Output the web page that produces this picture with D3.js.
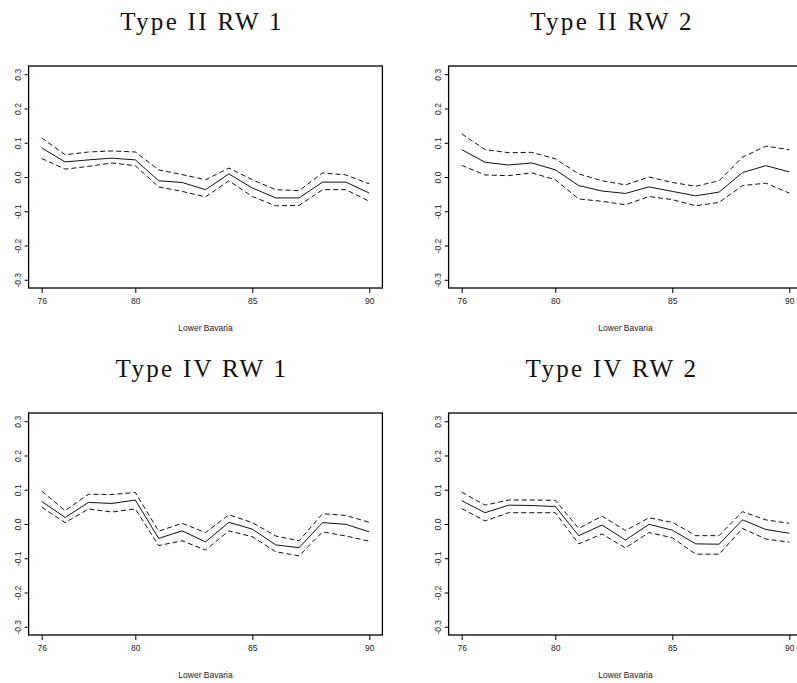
<!DOCTYPE html>
<html>
<head>
  <script src="https://cdnjs.cloudflare.com/ajax/libs/d3/7.8.5/d3.min.js"></script>
  <style>
    body { margin: 0; background: white; }
    .title { font-family: "Liberation Serif", serif; font-size: 25px; letter-spacing: 2.3px; fill: #111; }
    .tick text, .xlab { font-family: "Liberation Sans", Arial, sans-serif; font-size: 8.5px; fill: #222; }
    .tick line { stroke: #000; }
  </style>
</head>
<body>
  <div id="chart"></div>
  <script>
    // years on the x axis (19xx)
    const years = [76, 77, 78, 79, 80, 81, 82, 83, 84, 85, 86, 87, 88, 89, 90];
    const xTicks = [76, 80, 85, 90];
    const yTicks = [-0.3, -0.2, -0.1, 0.0, 0.1, 0.2, 0.3];

    const titles = ["Type II RW 1", "Type II RW 2", "Type IV RW 1", "Type IV RW 2"];
    const xLabel = "Lower Bavaria";

    // estimate and upper / lower bands for each panel
    const est2rw1 = [0.085, 0.044, 0.050, 0.055, 0.050, -0.011, -0.016, -0.037, 0.009, -0.032, -0.061, -0.061, -0.015, -0.015, -0.047];
    const up2rw1  = [0.114, 0.065, 0.073, 0.076, 0.073, 0.021, 0.007, -0.008, 0.026, -0.008, -0.037, -0.040, 0.012, 0.006, -0.020];
    const lo2rw1  = [0.054, 0.023, 0.031, 0.041, 0.033, -0.029, -0.042, -0.058, -0.011, -0.057, -0.084, -0.083, -0.037, -0.037, -0.071];

    const est2rw2 = [0.080, 0.043, 0.035, 0.041, 0.021, -0.025, -0.041, -0.048, -0.029, -0.042, -0.055, -0.044, 0.013, 0.033, 0.015];
    const up2rw2  = [0.126, 0.080, 0.071, 0.072, 0.053, 0.009, -0.011, -0.023, 0.000, -0.016, -0.027, -0.011, 0.058, 0.090, 0.080];
    const lo2rw2  = [0.034, 0.006, 0.004, 0.012, -0.008, -0.064, -0.071, -0.081, -0.057, -0.066, -0.084, -0.074, -0.025, -0.018, -0.047];

    const est4rw1 = [0.066, 0.019, 0.063, 0.060, 0.070, -0.042, -0.020, -0.052, 0.005, -0.015, -0.061, -0.069, 0.004, -0.001, -0.023];
    const up4rw1  = [0.096, 0.039, 0.087, 0.086, 0.092, -0.021, 0.002, -0.025, 0.027, 0.004, -0.035, -0.049, 0.030, 0.025, 0.005];
    const lo4rw1  = [0.049, 0.004, 0.044, 0.035, 0.044, -0.063, -0.049, -0.076, -0.020, -0.037, -0.081, -0.093, -0.023, -0.035, -0.050];

    const est4rw2 = [0.068, 0.033, 0.055, 0.054, 0.051, -0.034, -0.003, -0.047, -0.001, -0.018, -0.058, -0.059, 0.012, -0.016, -0.027];
    const up4rw2  = [0.093, 0.055, 0.070, 0.070, 0.069, -0.013, 0.023, -0.019, 0.018, 0.005, -0.034, -0.034, 0.036, 0.012, 0.002];
    const lo4rw2  = [0.045, 0.009, 0.033, 0.033, 0.033, -0.058, -0.029, -0.070, -0.025, -0.040, -0.088, -0.088, -0.013, -0.044, -0.053];

    const panels = [
      { title: titles[0], est: est2rw1, up: up2rw1, lo: lo2rw1 },
      { title: titles[1], est: est2rw2, up: up2rw2, lo: lo2rw2 },
      { title: titles[2], est: est4rw1, up: up4rw1, lo: lo4rw1 },
      { title: titles[3], est: est4rw2, up: up4rw2, lo: lo4rw2 }
    ];

    const width = 797, height = 683;
    const svg = d3.select("#chart").append("svg")
      .attr("width", width)
      .attr("height", height);

    // plot region inside each figure cell
    const box = { left: 28.6, right: 382.4, top: 66, bottom: 288 };
    const cellW = 420, cellH = 347;
    const titleX = [202, 612 - cellW];

    // R style 4% axis extension
    const xPad = (90 - 76) * 0.04;
    const yPad = 0.6 * 0.04;
    const x = d3.scaleLinear().domain([76 - xPad, 90 + xPad]).range([box.left, box.right]);
    const y = d3.scaleLinear().domain([-0.3 - yPad, 0.3 + yPad]).range([box.bottom, box.top]);

    const line = d3.line()
      .x((d, i) => x(years[i]))
      .y(d => y(d));

    panels.forEach((p, k) => {
      const col = k % 2, row = Math.floor(k / 2);
      const g = svg.append("g")
        .attr("transform", `translate(${col * cellW},${row * cellH})`);

      g.append("text")
        .attr("class", "title")
        .attr("x", titleX[col])
        .attr("y", 30)
        .attr("text-anchor", "middle")
        .text(p.title);

      g.append("rect")
        .attr("x", box.left)
        .attr("y", box.top)
        .attr("width", box.right - box.left)
        .attr("height", box.bottom - box.top)
        .attr("fill", "none")
        .attr("stroke", "#000")
        .attr("stroke-width", 1.3);

      // y axis with rotated labels
      const ya = g.append("g")
        .attr("transform", `translate(${box.left},0)`)
        .call(d3.axisLeft(y).tickValues(yTicks).tickSize(4).tickFormat(d => d.toFixed(1)));
      ya.select(".domain").remove();
      ya.selectAll(".tick text")
        .attr("x", null)
        .attr("dy", null)
        .attr("text-anchor", "middle")
        .attr("dominant-baseline", "central")
        .attr("transform", "translate(-11,0) rotate(-90)");

      const xa = g.append("g")
        .attr("transform", `translate(0,${box.bottom})`)
        .call(d3.axisBottom(x).tickValues(xTicks).tickSize(5).tickPadding(5));
      xa.select(".domain").remove();

      g.append("text")
        .attr("class", "xlab")
        .attr("x", (box.left + box.right) / 2)
        .attr("y", 331)
        .attr("text-anchor", "middle")
        .text(xLabel);

      [p.up, p.lo].forEach(s => {
        g.append("path")
          .datum(s)
          .attr("d", line)
          .attr("fill", "none")
          .attr("stroke", "#111")
          .attr("stroke-width", 1)
          .attr("stroke-dasharray", "5,3");
      });

      g.append("path")
        .datum(p.est)
        .attr("d", line)
        .attr("fill", "none")
        .attr("stroke", "#111")
        .attr("stroke-width", 1);
    });
  </script>
</body>
</html>
